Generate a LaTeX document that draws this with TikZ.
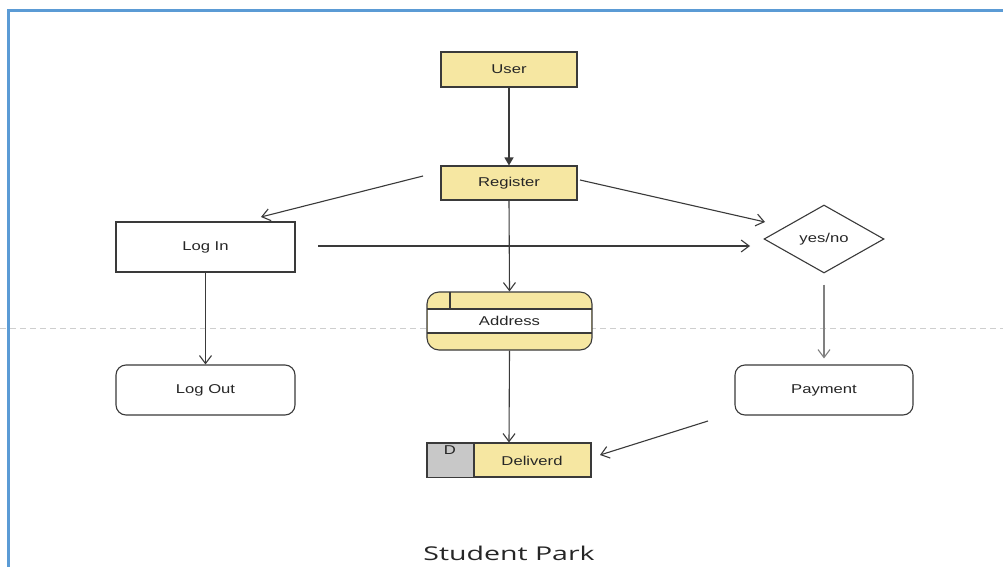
\documentclass[tikz,border=0pt]{standalone}
\usepackage{fontspec}
\newfontfamily\boxfont[FakeStretch=1.3]{Liberation Sans}
\newfontfamily\titlefont[FakeStretch=1.5]{Open Sans}
\usetikzlibrary{arrows.meta,shapes.geometric}
\definecolor{boxyellow}{HTML}{F6E7A2}
\definecolor{linegray}{HTML}{3A3A3A}
\definecolor{txtgray}{HTML}{262626}
\definecolor{frameblue}{HTML}{5B9BD5}
\definecolor{dgray}{HTML}{C8C8C8}
\tikzset{
  proc/.style={draw=linegray, line width=1.1pt, font=\boxfont\fontsize{12.8}{14}\selectfont, text=txtgray, inner sep=0pt},
  ybox/.style={proc, fill=boxyellow},
  wbox/.style={proc, fill=white},
  rbox/.style={proc, fill=white, rounded corners=10pt},
  conn/.style={draw=linegray, line width=1.1pt, -{Straight Barb[length=8pt,width=12pt,line width=1.1pt]}},
  fconn/.style={draw=linegray, line width=1.3pt, -{Triangle[length=8pt,width=9pt]}},
}
\begin{document}
\begin{tikzpicture}[x=1pt,y=-1pt]
\useasboundingbox (0,0) rectangle (1003,567);
\fill[white] (0,0) rectangle (1003,567);
% dashed page break
\draw[dgray!90, line width=0.8pt, dash pattern=on 6pt off 4pt] (0,328) -- (1003,328);
% frame
\draw[frameblue, line width=3pt] (8,567) -- (8,10.5) -- (1003,10.5);

% nodes
\node[ybox, minimum width=136pt, minimum height=35pt] (user) at (509,69.5) {User};
\node[ybox, minimum width=136pt, minimum height=34pt] (reg) at (509,183) {Register};
\node[wbox, minimum width=179pt, minimum height=50pt] (login) at (205.5,247) {Log In};
\node[rbox, minimum width=179pt, minimum height=50pt] (logout) at (205.5,390) {Log Out};
\node[rbox, minimum width=178pt, minimum height=50pt] (pay) at (824,390) {Payment};
\node[proc, fill=white, diamond, minimum width=120pt, minimum height=68pt] (yn) at (824,239) {yes/no};

% Address data store
\node[ybox, rounded corners=12pt, minimum width=165pt, minimum height=58pt] (addr) at (509.5,321) {};
\fill[white] (427.6,309) rectangle (591.4,333);
\draw[linegray, line width=1.1pt] (427,309) -- (592,309) (427,333) -- (592,333) (450,292) -- (450,309);
\node[proc, draw=none] (addrtxt) at (509.5,321) {Address};

% Deliverd store
\node[ybox, minimum width=164pt, minimum height=34pt] (del) at (509,460) {};
\fill[dgray] (427.5,443.5) rectangle (474,476.5);
\draw[linegray, line width=1.1pt] (474,443) -- (474,477);
\node[proc, draw=none] (deltxt) at (532,461) {Deliverd};
\node[proc, draw=none] (dlab) at (450,450) {D};

% free-end coordinates
\coordinate (r1s) at (423,176);
\coordinate (r1e) at (261,217);
\coordinate (r2s) at (580,180);
\coordinate (r2e) at (765,222);
\coordinate (l1s) at (318,246);
\coordinate (l1e) at (750,246);
\coordinate (p1s) at (708,421);
\coordinate (p1e) at (600,455);

% connectors
\draw[fconn] (user.south) -- (reg.north);
\draw[conn] (r1s) -- (r1e);
\draw[conn] (r2s) -- (r2e);
\draw[conn] (l1s) -- (l1e);
\draw[conn] (reg.south) -- (addr.north);
\draw[conn] (login.south) -- (logout.north);
\draw[conn, draw=gray, line width=2pt, shorten <=11pt, shorten >=6pt] (yn.south) -- (pay.north);
\draw[conn] (addr.south) -- (del.north);
\draw[conn] (p1s) -- (p1e);

% title
\node[font=\titlefont\fontsize{19}{21}\selectfont, text=txtgray] (title) at (509,553) {Student Park};
\end{tikzpicture}
\end{document}
